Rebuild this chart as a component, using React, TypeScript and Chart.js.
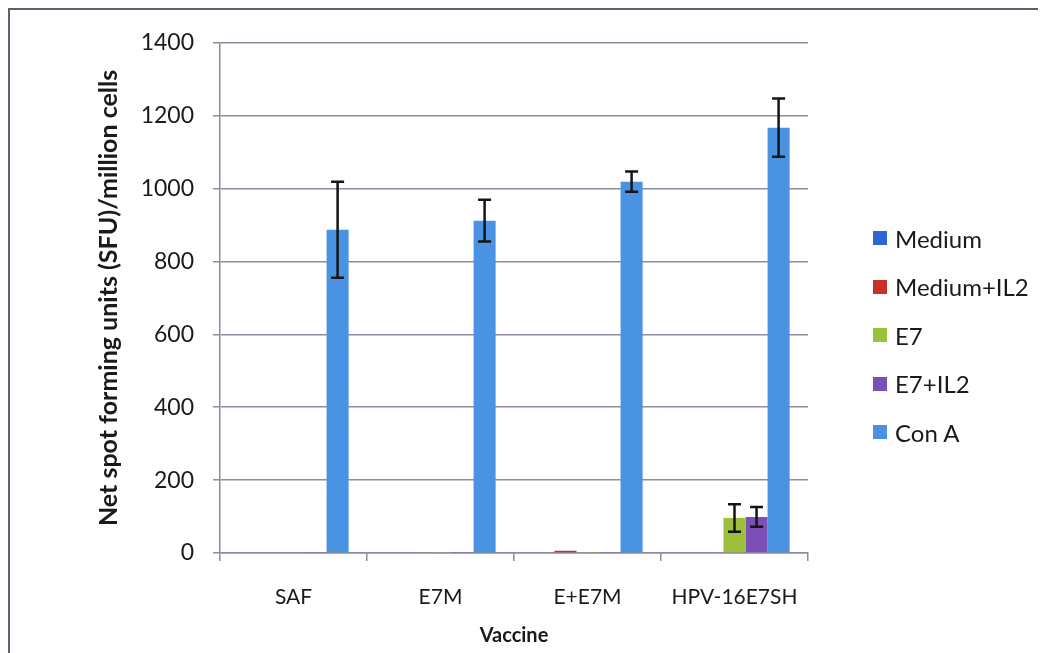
import React, { useEffect, useRef } from "react";
import { Chart, registerables } from "chart.js";

Chart.register(...registerables);

const categories = ["SAF", "E7M", "E+E7M", "HPV-16E7SH"];
const seriesNames = ["Medium", "Medium+IL2", "E7", "E7+IL2", "Con A"];
const mediumValues = [0, 0, 0, 0];
const mediumIL2Values = [0, 0, 6, 0];
const e7Values = [0, 3, 3, 96];
const e7IL2Values = [3, 3, 3, 99];
const conAValues = [887, 912, 1019, 1167];
const e7Errors = [0, 0, 0, 38];
const e7IL2Errors = [0, 0, 0, 27];
const conAErrors = [132, 57, 28, 80];
const seriesColors = ["#2f66d6", "#c8302c", "#9cbf3c", "#7b4fb5", "#4a92e2"];
const yMin = 0;
const yMax = 1400;
const yStep = 200;

const FONT = "Lato, 'Open Sans', sans-serif";
const GRID = "#8c8ca0";
const TEXT = "#1a1a1a";

const errorBarPlugin = {
  id: "errorBars",
  afterDatasetsDraw(chart: any) {
    const ctx = chart.ctx;
    const y = chart.scales.y;
    chart.data.datasets.forEach((ds: any, di: number) => {
      const errs = ds.errors;
      if (!errs) return;
      const meta = chart.getDatasetMeta(di);
      meta.data.forEach((bar: any, i: number) => {
        const e = errs[i];
        if (!e) return;
        const v = ds.data[i];
        const yTop = y.getPixelForValue(v + e);
        const yBot = y.getPixelForValue(v - e);
        ctx.save();
        ctx.strokeStyle = "#151515";
        ctx.lineWidth = 2.5;
        ctx.beginPath();
        ctx.moveTo(bar.x, yTop);
        ctx.lineTo(bar.x, yBot);
        ctx.moveTo(bar.x - 6.5, yTop);
        ctx.lineTo(bar.x + 6.5, yTop);
        ctx.moveTo(bar.x - 6.5, yBot);
        ctx.lineTo(bar.x + 6.5, yBot);
        ctx.stroke();
        ctx.restore();
      });
    });
  },
};

export default function App() {
  const ref = useRef<HTMLCanvasElement | null>(null);

  useEffect(() => {
    if (!ref.current) return;
    const valuesList = [mediumValues, mediumIL2Values, e7Values, e7IL2Values, conAValues];
    const errorsList = [null, null, e7Errors, e7IL2Errors, conAErrors];
    const chart = new Chart(ref.current, {
      type: "bar",
      data: {
        labels: categories,
        datasets: seriesNames.map((name, i) => ({
          label: name,
          data: valuesList[i],
          backgroundColor: seriesColors[i],
          borderWidth: 0,
          categoryPercentage: 0.75,
          barPercentage: 1,
          errors: errorsList[i],
        })) as any,
      },
      options: {
        animation: false,
        responsive: true,
        maintainAspectRatio: false,
        layout: { padding: { left: 0, right: 238, top: 32, bottom: 0 } },
        plugins: {
          legend: { display: false },
          tooltip: { enabled: false },
        },
        scales: {
          x: {
            afterFit: (s: any) => {
              s.height = 100;
            },
            grid: {
              display: true,
              offset: true,
              drawOnChartArea: false,
              drawTicks: true,
              tickLength: 8,
              color: GRID,
              lineWidth: 1.5,
            },
            border: { display: true, color: GRID, width: 1.5 },
            ticks: {
              color: TEXT,
              padding: 24,
              font: { family: FONT, size: 21 },
            },
            title: {
              display: true,
              text: "Vaccine",
              color: TEXT,
              font: { family: FONT, size: 20, weight: "bold" },
              padding: { top: 0, bottom: 5 },
            },
          },
          y: {
            min: yMin,
            max: yMax,
            afterFit: (s: any) => {
              s.width = 210;
            },
            grid: {
              color: GRID,
              lineWidth: 1.5,
              drawTicks: true,
              tickLength: 7,
            },
            border: { display: true, color: GRID, width: 1.5 },
            ticks: {
              stepSize: yStep,
              color: TEXT,
              padding: 19,
              font: { family: FONT, size: 23 },
              callback: (v: any) => String(v),
            },
            title: {
              display: true,
              text: "Net spot forming units (SFU)/million cells",
              color: TEXT,
              font: { family: FONT, size: 25, weight: "bold" },
              padding: { top: 84, bottom: 0 },
            },
          },
        },
      },
      plugins: [errorBarPlugin],
    });
    return () => chart.destroy();
  }, []);

  return (
    <div
      style={{
        position: "relative",
        width: 1036,
        height: 643,
        borderTop: "2px solid #5f5f70",
        borderLeft: "2px solid #5f5f70",
        background: "#fff",
      }}
    >
      <canvas ref={ref} />
      <div style={{ position: "absolute", left: 863, top: 204 }}>
        {seriesNames.map((name, i) => (
          <div
            key={name}
            style={{
              height: 48.5,
              display: "flex",
              alignItems: "center",
              fontFamily: FONT,
              fontSize: 24,
              color: TEXT,
              whiteSpace: "nowrap",
            }}
          >
            <span
              style={{
                display: "inline-block",
                width: 14,
                height: 14,
                background: seriesColors[i],
                marginRight: 8,
              }}
            />
            {name}
          </div>
        ))}
      </div>
    </div>
  );
}
